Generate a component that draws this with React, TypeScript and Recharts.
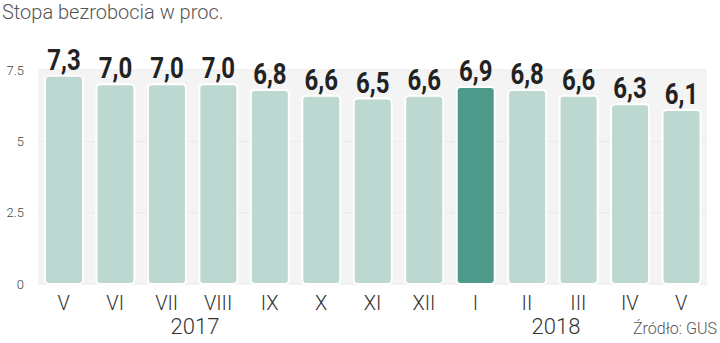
import { BarChart, Bar, XAxis, YAxis, CartesianGrid, LabelList, Cell } from 'recharts';

const months = ['V', 'VI', 'VII', 'VIII', 'IX', 'X', 'XI', 'XII', 'I', 'II', 'III', 'IV', 'V'];
const rates = [7.3, 7.0, 7.0, 7.0, 6.8, 6.6, 6.5, 6.6, 6.9, 6.8, 6.6, 6.3, 6.1];
const highlightIndex = 8;
const yTicks = [0, 2.5, 5, 7.5];
const years = [
  { label: '2017', x: 195 },
  { label: '2018', x: 556 },
];

const data = months.map((m, i) => ({ key: `${m}-${i}`, month: m, rate: rates[i] }));

const lightFont = 'Roboto, "Liberation Sans", sans-serif';

// condensed bold value label above each bar
const ValueLabel = (props: any) => {
  const { x, y, width, value } = props;
  const cx = Number(x) + Number(width) / 2;
  return (
    <text
      transform={`translate(${cx},${Number(y) - 6}) scale(0.8,1)`}
      textAnchor="middle"
      fontSize={30}
      fontWeight="bold"
      fill="#222"
      fontFamily="Roboto, sans-serif"
    >
      {Number(value).toFixed(1).replace('.', ',')}
    </text>
  );
};

const App = () => {
  return (
    <div style={{ position: 'absolute', left: 0, top: 0, width: 720, height: 343, background: '#fff', fontFamily: lightFont }}>
      <div style={{ position: 'absolute', left: 2, top: 0, fontSize: 20, fontWeight: 300, color: '#555' }}>
        Stopa bezrobocia w proc.
      </div>
      <BarChart
        width={720}
        height={343}
        data={data}
        margin={{ top: 70, right: 13, left: 0, bottom: 0 }}
      >
        <CartesianGrid vertical={false} stroke="#e9e9e9" fill="#f4f4f4" />
        <XAxis
          dataKey="key"
          tickFormatter={(v: string) => v.split('-')[0]}
          axisLine={false}
          tickLine={false}
          height={59}
          tickMargin={6}
          interval={0}
          tick={{ fontSize: 20, fill: '#333', fontFamily: lightFont, fontWeight: 300 }}
        />
        <YAxis
          domain={[0, 7.5]}
          ticks={yTicks}
          width={38}
          axisLine={false}
          tickLine={false}
          tickMargin={8}
          tick={{ fontSize: 13, fill: '#444', fontFamily: lightFont, fontWeight: 300 }}
        />
        <Bar
          dataKey="rate"
          barSize={38}
          stroke="#ffffff"
          strokeWidth={2}
          radius={[4, 4, 4, 4]}
          isAnimationActive={false}
        >
          {data.map((d, i) => (
            <Cell key={d.key} fill={i === highlightIndex ? '#4e9a8a' : '#bcd8d0'} />
          ))}
          <LabelList dataKey="rate" content={ValueLabel} />
        </Bar>
      </BarChart>
      {years.map((y) => (
        <div
          key={y.label}
          style={{ position: 'absolute', left: y.x - 40, width: 80, top: 314, textAlign: 'center', fontSize: 22, fontWeight: 300, color: '#333' }}
        >
          {y.label}
        </div>
      ))}
      <div style={{ position: 'absolute', right: 3, top: 319, fontSize: 16, fontWeight: 300, color: '#555' }}>
        Źródło: GUS
      </div>
    </div>
  );
};

export default App;
